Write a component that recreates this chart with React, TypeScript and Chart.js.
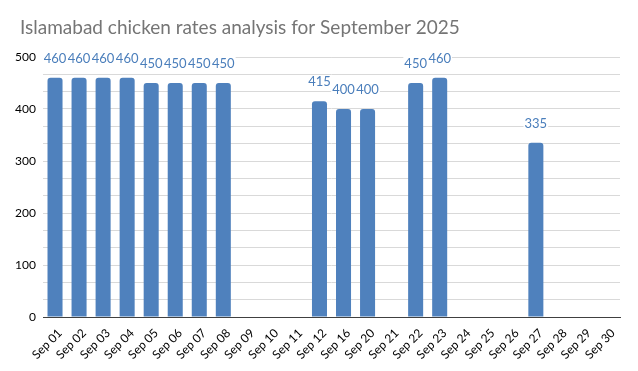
import React, { useEffect, useRef } from "react";
import { Chart, registerables } from "chart.js";

Chart.register(...registerables);

const TITLE = "Islamabad chicken rates analysis for September 2025";
const categories = [
  "Sep 01", "Sep 02", "Sep 03", "Sep 04", "Sep 05", "Sep 06", "Sep 07", "Sep 08",
  "Sep 09", "Sep 10", "Sep 11", "Sep 12", "Sep 16", "Sep 20", "Sep 21", "Sep 22",
  "Sep 23", "Sep 24", "Sep 25", "Sep 26", "Sep 27", "Sep 28", "Sep 29", "Sep 30",
];
const rates: (number | null)[] = [
  460, 460, 460, 460, 450, 450, 450, 450,
  null, null, null, 415, 400, 400, null, 450,
  460, null, null, null, 335, null, null, null,
];
const yLabelValues = [0, 100, 200, 300, 400, 500];
const Y_MAX = 500;

const BAR_COLOR = "#4f81bd";
const LABEL_COLOR = "#4a7ebb";
const GRID_COLOR = "#d9d9d9";
const FONT = "Lato, 'Open Sans', sans-serif";

const topGrid = {
  id: "topGrid",
  beforeDatasetsDraw(chart: any) {
    const ctx = chart.ctx;
    const y = Math.round(chart.scales.y.getPixelForValue(Y_MAX)) + 0.5;
    ctx.save();
    ctx.strokeStyle = GRID_COLOR;
    ctx.lineWidth = 1;
    ctx.beginPath();
    ctx.moveTo(chart.chartArea.left, y);
    ctx.lineTo(chart.chartArea.right, y);
    ctx.stroke();
    ctx.restore();
  },
};

const valueLabels = {
  id: "valueLabels",
  afterDatasetsDraw(chart: any) {
    const ctx = chart.ctx;
    const meta = chart.getDatasetMeta(0);
    ctx.save();
    ctx.font = `13px ${FONT}`;
    ctx.textAlign = "center";
    ctx.textBaseline = "middle";
    meta.data.forEach((bar: any, i: number) => {
      const v = rates[i];
      if (v == null) return;
      const text = String(v);
      const w = ctx.measureText(text).width;
      const cy = bar.y - 19;
      ctx.fillStyle = "#ffffff";
      ctx.fillRect(bar.x - w / 2 - 1, cy - 7, w + 2, 14);
    });
    ctx.fillStyle = LABEL_COLOR;
    meta.data.forEach((bar: any, i: number) => {
      const v = rates[i];
      if (v == null) return;
      ctx.fillText(String(v), bar.x, bar.y - 19);
    });
    ctx.restore();
  },
};

const titlePlugin = {
  id: "leftTitle",
  afterDraw(chart: any) {
    const ctx = chart.ctx;
    ctx.save();
    ctx.font = `19px ${FONT}`;
    ctx.fillStyle = "#757575";
    ctx.textAlign = "left";
    ctx.textBaseline = "alphabetic";
    ctx.fillText(TITLE, 20, 34);
    ctx.restore();
  },
};

export default function App() {
  const ref = useRef<HTMLCanvasElement>(null);
  useEffect(() => {
    document.body.style.margin = "0";
    const chart = new Chart(ref.current!, {
      type: "bar",
      data: {
        labels: categories,
        datasets: [
          {
            data: rates,
            backgroundColor: BAR_COLOR,
            barPercentage: 0.625,
            categoryPercentage: 1,
            borderRadius: { topLeft: 3, topRight: 3, bottomLeft: 0, bottomRight: 0 },
            borderSkipped: "bottom",
          },
        ],
      },
      options: {
        responsive: false,
        animation: false,
        layout: { padding: { left: 0, right: 18, top: 57, bottom: 0 } },
        plugins: {
          legend: { display: false },
          tooltip: { enabled: false },
          title: { display: false },
        },
        scales: {
          x: {
            grid: { display: false, drawTicks: false },
            border: { display: true, color: "#404040", width: 1 },
            ticks: {
              color: "#000",
              font: { family: FONT, size: 12 },
              maxRotation: 45,
              minRotation: 45,
              autoSkip: false,
              padding: 9,
              labelOffset: 5,
            },
            afterFit(scale: any) {
              scale.height = 54;
            },
          },
          y: {
            min: 0,
            max: Y_MAX,
            afterBuildTicks(scale: any) {
              const t: any[] = [];
              for (let i = 0; i <= 15; i++) t.push({ value: (Y_MAX * i) / 15 });
              scale.ticks = t;
            },
            grid: { color: GRID_COLOR, drawTicks: false },
            border: { display: false },
            ticks: {
              color: "#000",
              font: { family: FONT, size: 12 },
              padding: 7,
              autoSkip: false,
              callback(value: any) {
                const v = Math.round(Number(value));
                return yLabelValues.includes(v) && Math.abs(Number(value) - v) < 0.01 ? String(v) : "";
              },
            },
            afterFit(scale: any) {
              scale.width = 43;
            },
          },
        },
      },
      plugins: [topGrid, valueLabels, titlePlugin],
    } as any);
    return () => chart.destroy();
  }, []);
  return <canvas ref={ref} width={638} height={371} style={{ display: "block" }} />;
}
